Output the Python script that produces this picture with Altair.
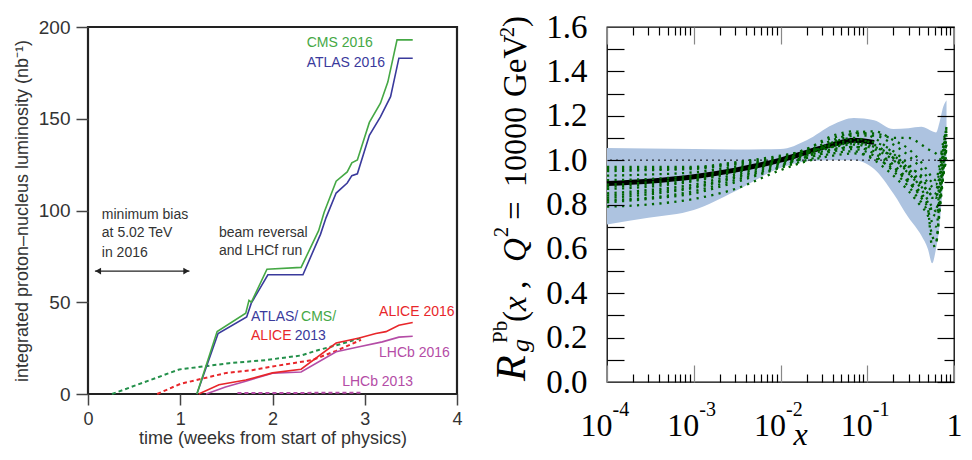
import json
import altair as alt
import pandas as pd

# ================= LEFT PANEL: integrated p-Pb luminosity =================
# time in weeks from start of physics, integrated luminosity in nb^-1
T_CMS16 = [1.18, 1.40, 1.71, 1.745, 1.77, 1.94, 2.31, 2.50, 2.56, 2.69, 2.81, 2.86, 2.92, 3.05, 3.17, 3.25, 3.35, 3.52]
L_CMS16 = [0, 34, 44, 51, 50, 68, 69, 89, 99, 116, 121, 126, 127.5, 148, 158.5, 170, 193, 193]
T_ATLAS16 = [1.18, 1.41, 1.72, 1.77, 1.95, 2.33, 2.52, 2.58, 2.69, 2.81, 2.86, 2.92, 3.05, 3.17, 3.28, 3.37, 3.52]
L_ATLAS16 = [0, 33, 42, 49.5, 65, 65, 87, 96, 109.5, 115, 119, 120, 141, 151, 162, 183, 183]
T_ALICE16 = [1.20, 1.42, 1.71, 2.00, 2.31, 2.69, 2.94, 3.12, 3.23, 3.37, 3.52]
L_ALICE16 = [0, 5, 7.6, 11.5, 13.5, 27.8, 30.5, 33, 34, 37.5, 39]
T_LHCB16 = [1.28, 1.49, 1.71, 2.00, 2.31, 2.69, 2.94, 3.19, 3.37, 3.52]
L_LHCB16 = [0, 3.8, 7, 11.3, 12, 23, 25.7, 28.4, 31, 31.5]
T_CMS13 = [0.26, 0.99, 1.53, 1.93, 2.31, 2.50, 2.69, 2.96]
L_CMS13 = [0, 13.4, 16.8, 18.5, 21, 24, 26.5, 30.5]
T_ALICE13 = [0.75, 1.00, 1.50, 1.78, 2.00, 2.43, 2.69, 2.96]
L_ALICE13 = [0, 5.5, 11.5, 13, 15, 18.5, 23.5, 29.5]
T_LHCB13 = [1.62, 2.96]
L_LHCB13 = [0.5, 0.7]

C_CMS = "#45a845"
C_ATLAS = "#3a3a9c"
C_ALICE = "#e8262a"
C_LHCB = "#b44ca6"
C_CMS13 = "#23904a"
C_TXT = "#333333"

LEFT_X_TICKS = [0, 1, 2, 3, 4]
LEFT_Y_TICKS = [0, 50, 100, 150, 200]

ANN_TEXT = ["CMS 2016", "ATLAS 2016", "minimum bias", "at 5.02 TeV", "in 2016",
            "beam reversal", "and LHCf run", "ATLAS/", "CMS/", "ALICE", "2013",
            "ALICE 2016", "LHCb 2016", "LHCb 2013"]
ANN_T = [2.37, 2.37, 0.15, 0.15, 0.15, 1.42, 1.42, 1.767, 2.31, 1.767, 2.24, 3.155, 3.155, 2.755]
ANN_L = [191.3, 180.4, 97.5, 88, 77, 88, 78, 42, 42, 31.6, 31.6, 44.7, 22.3, 6.5]
ANN_C = [C_CMS, C_ATLAS, C_TXT, C_TXT, C_TXT, C_TXT, C_TXT, C_ATLAS, C_CMS,
         C_ALICE, C_ATLAS, C_ALICE, C_LHCB, C_LHCB]

ARROW_T = [0.075, 1.10]
ARROW_L = 67
ARROW_HEAD_T = [0.11, 1.065]
ARROW_HEAD_SHAPE = ["triangle-left", "triangle-right"]

# ================= RIGHT PANEL: nuclear modification of gluon =================
XK = [1e-4, 3e-4, 1e-3, 3e-3, 1e-2, 2e-2, 4e-2, 7e-2, 0.12, 0.2, 0.3, 0.42, 0.5, 0.56, 0.62, 0.68, 0.75, 0.82]
BAND_HI = [1.055, 1.052, 1.05, 1.048, 1.05, 1.09, 1.16, 1.19, 1.18, 1.14, 1.144, 1.15, 1.14, 1.13, 1.125, 1.17, 1.24, 1.27]
BAND_LO = [0.71, 0.74, 0.775, 0.86, 0.965, 0.995, 1.0, 1.0, 0.96, 0.85, 0.74, 0.66, 0.6, 0.535, 0.6, 0.7, 0.9, 1.02]
# central fit, visible up to x ~ 0.12
XC = [1e-4, 3e-4, 1e-3, 3e-3, 1e-2, 2e-2, 4e-2, 7e-2, 0.12]
CENTRAL = [0.895, 0.905, 0.925, 0.955, 1.0, 1.035, 1.07, 1.09, 1.08]
REPLICAS = [
    [0.97, 0.97, 0.97, 0.99, 1.02, 1.04, 1.06, 1.07, 1.05, 1.0, 0.94, 0.88, 0.85, 0.83, 0.83, 0.9, 1.02, 1.12],
    [0.95, 0.955, 0.96, 0.98, 1.01, 1.05, 1.10, 1.12, 1.12, 1.10, 1.10, 1.07, 1.05, 1.04, 1.03, 1.02, 1.05, 1.13],
    [0.93, 0.935, 0.945, 0.97, 1.005, 1.03, 1.08, 1.11, 1.11, 1.07, 1.02, 0.96, 0.92, 0.9, 0.89, 0.95, 1.06, 1.15],
    [0.91, 0.915, 0.93, 0.96, 1.0, 1.04, 1.09, 1.12, 1.13, 1.09, 1.05, 0.99, 0.95, 0.92, 0.91, 0.98, 1.08, 1.14],
    [0.89, 0.9, 0.92, 0.955, 0.995, 1.035, 1.07, 1.09, 1.08, 1.04, 0.98, 0.92, 0.88, 0.86, 0.85, 0.9, 1.0, 1.1],
    [0.87, 0.88, 0.905, 0.945, 0.99, 1.02, 1.05, 1.06, 1.04, 0.98, 0.91, 0.85, 0.81, 0.78, 0.78, 0.85, 0.98, 1.08],
    [0.85, 0.865, 0.89, 0.935, 0.985, 1.01, 1.04, 1.05, 1.02, 0.95, 0.88, 0.81, 0.77, 0.72, 0.7, 0.8, 0.95, 1.05],
    [0.83, 0.845, 0.875, 0.92, 0.975, 1.02, 1.08, 1.1, 1.07, 1.01, 0.94, 0.87, 0.82, 0.79, 0.77, 0.83, 0.96, 1.07],
    [0.81, 0.825, 0.85, 0.9, 0.965, 1.0, 1.03, 1.04, 1.0, 0.93, 0.86, 0.79, 0.75, 0.66, 0.63, 0.76, 0.92, 1.03],
    [0.79, 0.8, 0.825, 0.87, 0.955, 0.995, 1.02, 1.03, 1.01, 0.96, 0.9, 0.83, 0.78, 0.61, 0.62, 0.78, 0.93, 1.0],
    [0.96, 0.96, 0.965, 0.985, 1.015, 1.05, 1.11, 1.13, 1.1, 1.03, 0.96, 0.9, 0.86, 0.84, 0.84, 0.93, 1.05, 1.15],
    [0.82, 0.83, 0.86, 0.91, 0.97, 1.015, 1.06, 1.08, 1.06, 1.02, 0.97, 0.93, 0.9, 0.88, 0.87, 0.92, 1.02, 1.11],
    [0.88, 0.89, 0.91, 0.95, 0.995, 1.03, 1.065, 1.075, 1.06, 1.01, 0.95, 0.89, 0.86, 0.84, 0.83, 0.88, 0.99, 1.09],
    [0.84, 0.855, 0.88, 0.925, 0.98, 1.01, 1.045, 1.06, 1.03, 0.97, 0.9, 0.84, 0.8, 0.76, 0.75, 0.82, 0.94, 1.06],
]
REF_LINE = [1.0]

# x tick labels: base "10" with raised exponent, and a plain "1"
XT_DECADES = [1e-4, 1e-3, 1e-2, 1e-1]
XT_BASE = ["10", "10", "10", "10"]
XT_EXP = ["-4", "-3", "-2", "-1"]
XT_ONE_VALUE = [1]
XT_ONE = "1"
XT_MAJOR = [1e-4, 1e-3, 1e-2, 1e-1, 1]
XT_MINOR = [m * d for d in [1e-4, 1e-3, 1e-2, 1e-1] for m in range(2, 10)]
YT_MAJOR = [0.0, 0.2, 0.4, 0.6, 0.8, 1.0, 1.2, 1.4, 1.6]
YT_ALL = [0.1, 0.2, 0.3, 0.4, 0.5, 0.6, 0.7, 0.8, 0.9, 1.0, 1.1, 1.2, 1.3, 1.4, 1.5]
YT_ODD = [0.1, 0.3, 0.5, 0.7, 0.9, 1.1, 1.3, 1.5]

# pieces of the right y-axis title: text, px, py (relative to plot origin), size, style
TITLE_PIECES = [
    ("R", -82, 354, 42, "italic"),
    ("g", -78, 325, 26, "italic"),
    ("Pb", -100, 316, 21, "normal"),
    ("(", -81, 295, 33, "normal"),
    ("x", -81, 284, 33, "italic"),
    (",", -81, 262, 33, "normal"),
    ("Q", -81, 235, 33, "italic"),
    ("2", -99, 210, 20, "normal"),
    ("=", -81, 193, 33, "normal"),
    ("10000", -81, 160, 32, "normal"),
    ("GeV", -81, 70, 33, "normal"),
    ("2", -93, 10, 20, "normal"),
    (")", -81, 0, 33, "normal"),
]

# ================= BUILD LEFT =================
W1, H1 = 369, 367
SANS = "Liberation Sans"

xl = alt.X("t:Q", scale=alt.Scale(domain=[0, 4]),
           axis=alt.Axis(values=LEFT_X_TICKS, grid=False, domain=False, tickSize=11,
                         tickColor="#444", tickWidth=1.5, labelFont=SANS, labelFontSize=18,
                         labelColor=C_TXT, labelPadding=5, labelFlush=False,
                         title="time (weeks from start of physics)", titleFont=SANS,
                         titleFontSize=18, titleFontWeight="normal", titleColor=C_TXT,
                         titlePadding=1))
yl = alt.Y("L:Q", scale=alt.Scale(domain=[0, 200]),
           axis=alt.Axis(values=LEFT_Y_TICKS, grid=False, domain=False, tickSize=12,
                         tickColor="#444", tickWidth=1.5, labelFont=SANS, labelFontSize=19,
                         labelColor=C_TXT, labelPadding=6,
                         title="integrated proton–nucleus luminosity (nb⁻¹)", titleFont=SANS,
                         titleFontSize=18, titleFontWeight="normal", titleColor=C_TXT,
                         titlePadding=7))

def series(t, l):
    return pd.DataFrame({"t": t, "L": l})

left_layers = []
for t, l, c in [(T_CMS13, L_CMS13, C_CMS13), (T_ALICE13, L_ALICE13, C_ALICE), (T_LHCB13, L_LHCB13, C_LHCB)]:
    left_layers.append(alt.Chart(series(t, l)).mark_line(color=c, strokeWidth=2, strokeDash=[4, 3]).encode(x=xl, y=yl))
for t, l, c in [(T_LHCB16, L_LHCB16, C_LHCB), (T_ALICE16, L_ALICE16, C_ALICE),
                (T_ATLAS16, L_ATLAS16, C_ATLAS), (T_CMS16, L_CMS16, C_CMS)]:
    left_layers.append(alt.Chart(series(t, l)).mark_line(color=c, strokeWidth=1.6).encode(x=xl, y=yl))

ann = pd.DataFrame({"txt": ANN_TEXT, "t": ANN_T, "L": ANN_L, "c": ANN_C})
left_layers.append(alt.Chart(ann).mark_text(align="left", baseline="middle", font=SANS, fontSize=14).encode(
    x=xl, y=yl, text="txt:N", color=alt.Color("c:N", scale=None)))

arrow = pd.DataFrame({"t": [ARROW_T[0]], "t2": [ARROW_T[1]], "L": [ARROW_L]})
left_layers.append(alt.Chart(arrow).mark_rule(color="#222", strokeWidth=1.3).encode(x=xl, x2="t2:Q", y=yl))
heads = pd.DataFrame({"t": ARROW_HEAD_T, "L": [ARROW_L, ARROW_L], "shape": ARROW_HEAD_SHAPE})
left_layers.append(alt.Chart(heads).mark_point(filled=True, color="#222", size=45, opacity=1).encode(
    x=xl, y=yl, shape=alt.Shape("shape:N", scale=None)))

left = alt.layer(*left_layers).properties(
    width=W1, height=H1, view=alt.ViewBackground(stroke="#222", strokeWidth=2.2))

# ================= BUILD RIGHT =================
W2, H2 = 347, 355
SERIF = "Liberation Serif"
xs = alt.Scale(type="log", domain=[1e-4, 1])
ys = alt.Scale(domain=[0, 1.6])
IDX = "[round(log(datum.value)/LN10)+4]"

def tick_axis(orient, offset, values, size, color="black"):
    return alt.Axis(orient=orient, offset=offset, values=values, tickSize=size, tickColor=color,
                    tickWidth=1.2, labels=False, domain=False, grid=False, title=None, zindex=1)

ax_x_base = alt.Axis(orient="bottom", values=XT_DECADES, labelExpr=json.dumps(XT_BASE) + IDX,
                     ticks=False, domain=False, grid=False, labelFont=SERIF, labelFontSize=32,
                     labelColor="black", labelPadding=53, labelAlign="right", labelOffset=5,
                     labelBaseline="alphabetic", labelFlush=False, labelOverlap=False,
                     title="x", titleFont=SERIF, titleFontSize=32, titleFontStyle="italic",
                     titleFontWeight="normal", titleColor="black", titleBaseline="alphabetic",
                     titleAlign="center", titleX=193, titleY=62)
ax_x_exp = alt.Axis(orient="bottom", values=XT_DECADES, labelExpr=json.dumps(XT_EXP) + IDX,
                    ticks=False, domain=False, grid=False, labelFont=SERIF, labelFontSize=20,
                    labelColor="black", labelPadding=33, labelAlign="left", labelOffset=5,
                    labelBaseline="alphabetic", labelFlush=False, labelOverlap=False, title=None)
ax_x_one = alt.Axis(orient="bottom", values=XT_ONE_VALUE, labelExpr=json.dumps(XT_ONE),
                    ticks=False, domain=False, grid=False, labelFont=SERIF, labelFontSize=32,
                    labelColor="black", labelPadding=53, labelAlign="center",
                    labelBaseline="alphabetic", labelFlush=False, labelOverlap=False, title=None)
ax_y_lab = alt.Axis(orient="left", values=YT_MAJOR, format=".1f", ticks=False, domain=False, grid=False,
                    labelFont=SERIF, labelFontSize=33, labelColor="black", labelPadding=20,
                    labelOverlap=False, labelFlush=False, title=None)

band_df = pd.DataFrame({"x": XK, "lo": BAND_LO, "hi": BAND_HI})
cen_df = pd.DataFrame({"x": XC, "y": CENTRAL})
rep_rows = []
for i, r in enumerate(REPLICAS):
    for x, y in zip(XK, r):
        rep_rows.append({"x": x, "y": y, "r": i})
rep_df = pd.DataFrame(rep_rows)

band = alt.Chart(band_df).mark_area(color="#adc3e0", interpolate="monotone").encode(
    x=alt.X("x:Q", scale=xs, axis=ax_x_base), y=alt.Y("lo:Q", scale=ys, axis=ax_y_lab), y2="hi:Q")
ref = alt.Chart(pd.DataFrame({"y": REF_LINE})).mark_rule(color="black", strokeWidth=1, strokeDash=[2, 4]).encode(
    y=alt.Y("y:Q", scale=ys, axis=tick_axis("right", -W2, YT_ALL, 17)))
cen = alt.Chart(cen_df).mark_line(color="black", strokeWidth=5, interpolate="monotone").encode(
    x=alt.X("x:Q", scale=xs, axis=tick_axis("top", -H2, XT_MAJOR, 17, "#888")),
    y=alt.Y("y:Q", scale=ys, axis=tick_axis("left", -W2, YT_MAJOR, 17)))
reps = alt.Chart(rep_df).mark_line(color="#006400", strokeWidth=2.3, strokeDash=[2.2, 5.3],
                                   interpolate="monotone").encode(
    x=alt.X("x:Q", scale=xs, axis=tick_axis("top", -H2, XT_MINOR, 8)),
    y=alt.Y("y:Q", scale=ys, axis=tick_axis("left", -W2, YT_ODD, 10)),
    detail="r:N")

def ghost(axis):
    return alt.Chart(band_df).mark_line(opacity=0).encode(
        x=alt.X("x:Q", scale=xs, axis=axis), y=alt.Y("lo:Q", scale=ys, axis=None))

ghosts = [ghost(tick_axis("bottom", -H2, XT_MAJOR, 17, "#888")),
          ghost(tick_axis("bottom", -H2, XT_MINOR, 8)),
          ghost(ax_x_exp), ghost(ax_x_one)]

title_layers = []
for txt, px, py, size, style in TITLE_PIECES:
    title_layers.append(alt.Chart(pd.DataFrame({"s": [txt]})).mark_text(
        angle=270, align="left", baseline="alphabetic", font=SERIF, fontSize=size,
        fontStyle=style, color="black").encode(x=alt.value(px), y=alt.value(py), text="s:N"))

right = alt.layer(band, ref, cen, reps, *ghosts, *title_layers).resolve_axis(
    x="independent", y="independent").properties(
    width=W2, height=H2, view=alt.ViewBackground(stroke="black", strokeWidth=1.3))

chart = alt.hconcat(left, right, spacing=150, bounds="flush").properties(
    padding={"left": 4, "top": 2, "right": 0, "bottom": 0})

chart.save("out.html", embed_options={"renderer": "svg", "actions": False})
